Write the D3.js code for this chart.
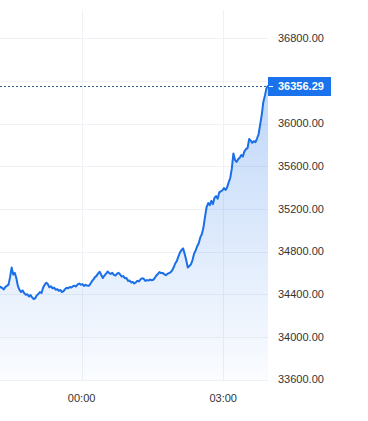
<!DOCTYPE html>
<html>
<head>
<meta charset="utf-8">
<script src="https://cdn.jsdelivr.net/npm/d3@7"></script>
<style>
  html, body { margin: 0; padding: 0; background: #fff; }
  svg { display: block; font-family: "Liberation Sans", Arial, sans-serif; }
</style>
</head>
<body>
<div id="chart"></div>
<script>
// price samples, one every 2 minutes, from 22:15 to 03:57
const startTime = "2024-01-01T22:15:00"
const stepMinutes = 2
const prices = [
  34455, 34470, 34458, 34445, 34468, 34478, 34490, 34560, 34650, 34585,
  34600, 34550, 34475, 34440, 34420, 34435, 34410, 34395, 34400, 34378,
  34392, 34370, 34355, 34362, 34390, 34402, 34420, 34412, 34460, 34488,
  34508, 34495, 34465, 34475, 34455, 34462, 34442, 34448, 34432, 34440,
  34420, 34428, 34448, 34460, 34456, 34468, 34462, 34475, 34480, 34472,
  34492, 34500, 34488, 34495, 34478, 34488, 34482, 34478, 34495, 34520,
  34538, 34560, 34572, 34595, 34610, 34580, 34552, 34575, 34592, 34612,
  34598, 34590, 34600, 34582, 34575, 34592, 34600, 34585, 34565, 34570,
  34550, 34552, 34525, 34528, 34510, 34515, 34500, 34512, 34525, 34520,
  34540, 34550, 34545, 34525, 34532, 34528, 34538, 34530, 34535, 34552,
  34575, 34590, 34608, 34598, 34600, 34588, 34578, 34590, 34598, 34605,
  34622, 34650, 34688, 34710, 34752, 34790, 34815, 34830, 34780, 34720,
  34650, 34665, 34680, 34720, 34780, 34810, 34850, 34880, 34935, 34965,
  35030, 35130, 35220, 35255, 35235, 35275, 35245, 35305, 35320, 35295,
  35355, 35365, 35375, 35395, 35378, 35402, 35450, 35490, 35580, 35720,
  35660, 35640, 35665, 35680, 35705, 35690, 35740, 35760, 35770, 35855,
  35840, 35820, 35835, 35825, 35860, 35900, 35990, 36080, 36200, 36260,
  36330, 36356.29
]
const lastPrice = 36356.29

const yTicks = [33600, 34000, 34400, 34800, 35200, 35600, 36000, 36400, 36800]
const xTicks = ["2024-01-02T00:00:00", "2024-01-02T03:00:00"]
const xDomain = ["2024-01-01T22:16:12", "2024-01-02T03:57:00"]

const width = 368
const height = 421
const plotLeft = 0
const plotRight = 268
const plotTop = 10
const plotBottom = 380

const lineColor = "#1a6fe8"

const parse = d3.isoParse
const data = prices.map((v, i) => ({
  t: new Date(parse(startTime).getTime() + i * stepMinutes * 60000),
  v: v
}))

const svg = d3.select("#chart").append("svg")
  .attr("width", width)
  .attr("height", height)

const xScale = d3.scaleTime()
  .domain(xDomain.map(parse))
  .range([plotLeft, plotRight])

const yScale = d3.scaleLinear()
  .domain([33600, 36800])
  .range([379.5, 38.3])

// grid
svg.append("g")
  .selectAll("line")
  .data(yTicks)
  .join("line")
  .attr("x1", plotLeft)
  .attr("x2", plotRight)
  .attr("y1", d => Math.round(yScale(d)) + 0.5)
  .attr("y2", d => Math.round(yScale(d)) + 0.5)
  .attr("stroke", "#eef1f6")

svg.append("g")
  .selectAll("line")
  .data(xTicks.map(parse))
  .join("line")
  .attr("x1", d => Math.round(xScale(d)) + 0.5)
  .attr("x2", d => Math.round(xScale(d)) + 0.5)
  .attr("y1", plotTop)
  .attr("y2", plotBottom)
  .attr("stroke", "#eef1f6")

// area gradient
const grad = svg.append("defs").append("linearGradient")
  .attr("id", "fillGrad")
  .attr("gradientUnits", "userSpaceOnUse")
  .attr("x1", 0).attr("x2", 0)
  .attr("y1", yScale(lastPrice)).attr("y2", plotBottom)
grad.append("stop").attr("offset", "0%").attr("stop-color", lineColor).attr("stop-opacity", 0.28)
grad.append("stop").attr("offset", "100%").attr("stop-color", lineColor).attr("stop-opacity", 0.02)

const area = d3.area()
  .x(d => xScale(d.t))
  .y0(plotBottom)
  .y1(d => yScale(d.v))

const line = d3.line()
  .x(d => xScale(d.t))
  .y(d => yScale(d.v))

svg.append("clipPath").attr("id", "plotClip")
  .append("rect")
  .attr("x", plotLeft).attr("y", plotTop)
  .attr("width", plotRight - plotLeft).attr("height", plotBottom - plotTop)

const g = svg.append("g").attr("clip-path", "url(#plotClip)")

g.append("path")
  .datum(data)
  .attr("d", area)
  .attr("fill", "url(#fillGrad)")

g.append("path")
  .datum(data)
  .attr("d", line)
  .attr("fill", "none")
  .attr("stroke", lineColor)
  .attr("stroke-width", 2)
  .attr("stroke-linejoin", "round")

// last price dashed line
const lastY = Math.round(yScale(lastPrice)) + 0.5
svg.append("line")
  .attr("x1", plotLeft)
  .attr("x2", plotRight)
  .attr("y1", lastY)
  .attr("y2", lastY)
  .attr("stroke", "#2b5f8f")
  .attr("stroke-dasharray", "2,2")

// y axis labels (hide the one under the price label)
svg.append("g")
  .selectAll("text")
  .data(yTicks.filter(d => Math.abs(yScale(d) - yScale(lastPrice)) > 12))
  .join("text")
  .attr("x", 278)
  .attr("y", d => yScale(d))
  .attr("dy", "0.35em")
  .attr("fill", "#333")
  .style("font-size", "11px")
  .text(d => d3.format(".2f")(d))

// x axis labels
svg.append("g")
  .selectAll("text")
  .data(xTicks.map(parse))
  .join("text")
  .attr("x", d => xScale(d))
  .attr("y", 398)
  .attr("dy", "0.35em")
  .attr("text-anchor", "middle")
  .attr("fill", "#333")
  .style("font-size", "11px")
  .text(d => d3.timeFormat("%H:%M")(d))

// price label
svg.append("rect")
  .attr("x", 268)
  .attr("y", lastY - 9.5)
  .attr("width", 63)
  .attr("height", 19)
  .attr("fill", "#1a73ec")

svg.append("line")
  .attr("x1", 269).attr("x2", 273)
  .attr("y1", lastY).attr("y2", lastY)
  .attr("stroke", "#fff")

svg.append("text")
  .attr("x", 278)
  .attr("y", lastY)
  .attr("dy", "0.35em")
  .attr("fill", "#fff")
  .style("font-size", "11px")
  .style("font-weight", "bold")
  .text(d3.format(".2f")(lastPrice))
</script>
</body>
</html>
